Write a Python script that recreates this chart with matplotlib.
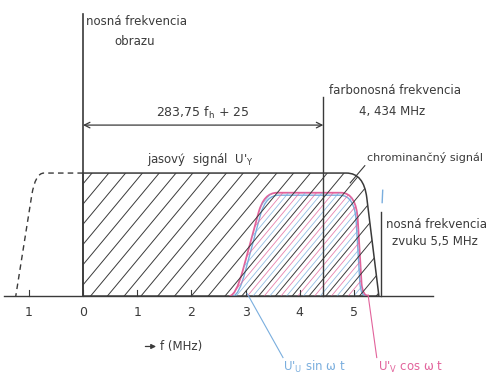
import numpy as np
import matplotlib.pyplot as plt
from matplotlib.path import Path
from matplotlib.patches import PathPatch

# frequency axis (MHz)
tick_pos = [-1, 0, 1, 2, 3, 4, 5]
tick_txt = ['1', '0', '1', '2', '3', '4', '5']

f_picture = 0.0      # nosna frekvencia obrazu
f_colour = 4.434     # farbonosna frekvencia
f_sound = 5.5        # nosna frekvencia zvuku

# luminance U'Y spectrum outline (MHz, relative amplitude)
luma_f = [0.0, 4.86, 5.18, 5.236, 5.46, 0.0, 0.0]
luma_a = [1.0, 1.0, 1.0, 0.80, 0.0, 0.0, 1.0]
# lower (dashed) side of the luminance band
side_f = [0.0, -0.72, -0.88, -0.945, -1.24]
side_a = [1.0, 1.0, 1.0, 0.82, 0.0]
# chrominance U'V cos wt (pink) and U'U sin wt (blue)
cos_f = [2.70, 2.82, 2.95, 3.24, 3.34, 3.58, 4.76, 5.04, 5.07, 5.14, 5.16, 5.27]
cos_a = [0.0, 0.0, 0.21, 0.68, 0.84, 0.84, 0.84, 0.84, 0.62, 0.10, 0.0, 0.0]
sin_f = [2.76, 2.88, 3.00, 3.28, 3.38, 3.61, 4.74, 5.01, 5.04, 5.11, 5.13, 5.22]
sin_a = [0.0, 0.0, 0.21, 0.67, 0.82, 0.82, 0.82, 0.82, 0.61, 0.10, 0.0, 0.0]

M, L, C = Path.MOVETO, Path.LINETO, Path.CURVE3
luma_codes = [M, L, C, C, L, L, Path.CLOSEPOLY]
side_codes = [M, L, C, C, L]
chroma_codes = [M, C, C, L, C, C, L, C, C, L, C, C]

ink = '#3a3a3a'
pink = '#e2639b'
blue = '#7aaede'

fig = plt.figure(figsize=(4.91, 3.76), dpi=100)
ax = fig.add_axes([0, 0, 1, 1])
ax.set_xlim(-1.531, 7.528)
ax.set_ylim(-0.650, 2.407)
ax.axis('off')

luma = PathPatch(Path(np.column_stack([luma_f, luma_a]), luma_codes),
                 fill=False, edgecolor=ink, lw=1.1)
ax.add_patch(luma)
side = PathPatch(Path(np.column_stack([side_f, side_a]), side_codes),
                 fill=False, edgecolor=ink, lw=1.0, ls=(0, (4, 3)))
ax.add_patch(side)
pcos = PathPatch(Path(np.column_stack([cos_f, cos_a]), chroma_codes),
                 fill=False, edgecolor=pink, lw=1.3)
ax.add_patch(pcos)
psin = PathPatch(Path(np.column_stack([sin_f, sin_a]), chroma_codes),
                 fill=False, edgecolor=blue, lw=1.0)
ax.add_patch(psin)

# hatching
slope, step = 0.53, 0.31
for c in np.arange(-3.0, 7.0, step) + 0.04:
    ln, = ax.plot([c, c + 3], [0, 3 * slope], color=ink, lw=0.7)
    ln.set_clip_path(luma)
    for off, col in [(step / 3, pink), (2 * step / 3, blue)]:
        ln, = ax.plot([c + off, c + off + 3], [0, 3 * slope], color=col, lw=0.6, alpha=0.8)
        ln.set_clip_path(pcos)

# axis and carriers
ax.plot([-1.45, 6.45], [0, 0], color=ink, lw=1.0)
for t, s in zip(tick_pos, tick_txt):
    ax.plot([t, t], [0, 0.05], color=ink, lw=0.8)
    ax.text(t, -0.13, s, ha='center', va='center', fontsize=9, color=ink)
ax.plot([f_picture, f_picture], [0, 2.29], color=ink, lw=1.2)
ax.plot([f_colour, f_colour], [0, 1.62], color=ink, lw=1.0)
ax.plot([f_sound, f_sound], [0, 0.68], color=ink, lw=1.0)
ax.plot([f_sound + 0.02, f_sound + 0.03], [0.76, 0.86], color=blue, lw=1.0)

ax.annotate('', xy=(f_picture, 1.39), xytext=(f_colour, 1.39),
            arrowprops=dict(arrowstyle='<->', color=ink, lw=0.9, shrinkA=0, shrinkB=0))
ax.text((f_picture + f_colour) / 2, 1.49, '283,75 f$_\\mathrm{h}$ + 25',
        ha='center', va='center', fontsize=9, color=ink)

ax.text(0.06, 2.23, 'nosná frekvencia', ha='left', va='center', fontsize=8.5, color=ink)
ax.text(0.96, 2.07, 'obrazu', ha='center', va='center', fontsize=8.5, color=ink)
ax.text(4.54, 1.67, 'farbonosná frekvencia', ha='left', va='center', fontsize=8.5, color=ink)
ax.text(5.70, 1.50, '4, 434 MHz', ha='center', va='center', fontsize=8.5, color=ink)
ax.text(1.18, 1.11, "jasový  signál  U$'_\\mathrm{Y}$", ha='left', va='center',
        fontsize=8.5, color=ink)
ax.text(5.24, 1.13, 'chrominančný signál', ha='left', va='center', fontsize=8, color=ink)
ax.plot([5.20, 4.93], [1.06, 0.92], color=ink, lw=0.8)
ax.text(5.59, 0.58, 'nosná frekvencia', ha='left', va='center', fontsize=8.5, color=ink)
ax.text(5.70, 0.44, 'zvuku 5,5 MHz', ha='left', va='center', fontsize=8.5, color=ink)

ax.annotate('', xy=(1.40, -0.41), xytext=(1.10, -0.41),
            arrowprops=dict(arrowstyle='-|>', color=ink, lw=0.9, mutation_scale=7))
ax.text(1.43, -0.41, 'f (MHz)', ha='left', va='center', fontsize=8.5, color=ink)

ax.plot([3.03, 3.69], [0.02, -0.50], color=blue, lw=0.8)
ax.text(3.69, -0.58, "U$'_\\mathrm{U}$ sin ω t", ha='left', va='center', fontsize=8.5, color=blue)
ax.plot([5.26, 5.42], [0.01, -0.50], color=pink, lw=0.8)
ax.text(5.44, -0.58, "U$'_\\mathrm{V}$ cos ω t", ha='left', va='center', fontsize=8.5, color=pink)

fig.savefig('out.png', dpi=100)
